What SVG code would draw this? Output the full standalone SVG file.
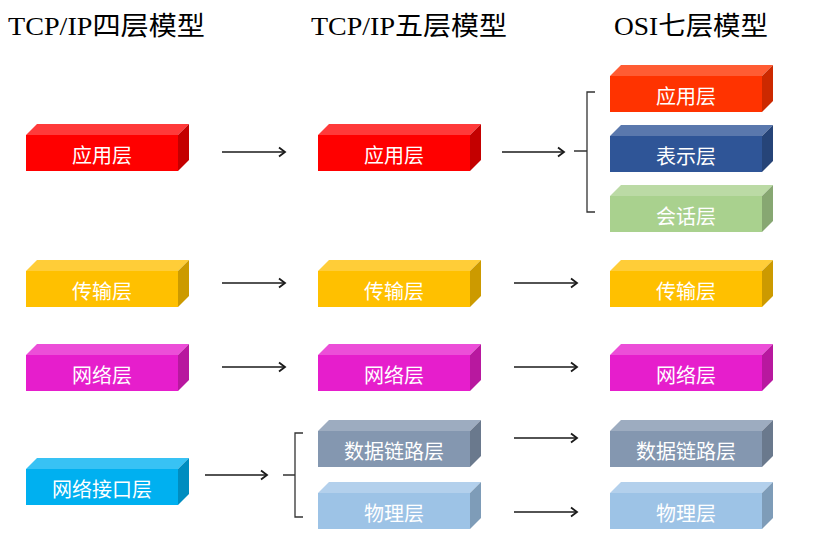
<svg xmlns="http://www.w3.org/2000/svg" width="813" height="559" viewBox="0 0 813 559">
<defs>
<marker id="arr" markerWidth="12" markerHeight="12" refX="9" refY="6" orient="auto" markerUnits="userSpaceOnUse">
<path d="M3,1.5 L9,6 L3,10.5" fill="none" stroke="#1a1a1a" stroke-width="1.8"/>
</marker>
</defs>
<style>
.title{font-family:"Liberation Serif","Noto Sans CJK SC",serif;font-size:26px;fill:#000}
.lbl{font-family:"Noto Sans CJK SC","Noto Sans CJK JP",sans-serif;font-size:20px;fill:#fff;text-anchor:middle}
.con{stroke:#1a1a1a;stroke-width:1.6;fill:none}
.br{stroke:#333;stroke-width:1.3;fill:none}
.red .f{fill:#FF0000}.red .t{fill:#FF3A3A}.red .s{fill:#C40000}
.ylw .f{fill:#FFC000}.ylw .t{fill:#FFCD38}.ylw .s{fill:#CC9A00}
.mag .f{fill:#E61ECC}.mag .t{fill:#EC4ED8}.mag .s{fill:#B8189F}
.cyn .f{fill:#00B0F0}.cyn .t{fill:#38C2F4}.cyn .s{fill:#008DC0}
.org .f{fill:#FF3300}.org .t{fill:#FF5C33}.org .s{fill:#CC2900}
.blu .f{fill:#2F5597}.blu .t{fill:#5A78AD}.blu .s{fill:#264478}
.grn .f{fill:#A9D18E}.grn .t{fill:#BBDAA5}.grn .s{fill:#87A772}
.slt .f{fill:#8497B0}.slt .t{fill:#9DACC0}.slt .s{fill:#6A798D}
.lbl2 .f{fill:#9DC3E6}.lbl2 .t{fill:#B3D0EC}.lbl2 .s{fill:#7E9CB8}
</style>
<rect width="813" height="559" fill="#fff"/>
<g id="titles">
<text class="title" x="8" y="35" textLength="197" lengthAdjust="spacingAndGlyphs">TCP/IP四层模型</text>
<text class="title" x="311" y="35" textLength="196" lengthAdjust="spacingAndGlyphs">TCP/IP五层模型</text>
<text class="title" x="614" y="35" textLength="154" lengthAdjust="spacingAndGlyphs">OSI七层模型</text>
</g>

<g id="L1" class="red"><polygon class="t" points="26,135 37,124 189,124 178,135"/><polygon class="s" points="178,135 189,124 189,160 178,171"/><rect class="f" x="26" y="135" width="152" height="36"/><text class="lbl" x="102" y="163">应用层</text></g>
<g id="L2" class="ylw"><polygon class="t" points="26,271 37,260 189,260 178,271"/><polygon class="s" points="178,271 189,260 189,296 178,307"/><rect class="f" x="26" y="271" width="152" height="36"/><text class="lbl" x="102" y="299">传输层</text></g>
<g id="L3" class="mag"><polygon class="t" points="26,355 37,344 189,344 178,355"/><polygon class="s" points="178,355 189,344 189,380 178,391"/><rect class="f" x="26" y="355" width="152" height="36"/><text class="lbl" x="102" y="383">网络层</text></g>
<g id="L4" class="cyn"><polygon class="t" points="26,469 37,458 189,458 178,469"/><polygon class="s" points="178,469 189,458 189,494 178,505"/><rect class="f" x="26" y="469" width="152" height="36"/><text class="lbl" x="102" y="497">网络接口层</text></g>

<g id="M1" class="red"><polygon class="t" points="318,135 329,124 481,124 470,135"/><polygon class="s" points="470,135 481,124 481,160 470,171"/><rect class="f" x="318" y="135" width="152" height="36"/><text class="lbl" x="394" y="163">应用层</text></g>
<g id="M2" class="ylw"><polygon class="t" points="318,271 329,260 481,260 470,271"/><polygon class="s" points="470,271 481,260 481,296 470,307"/><rect class="f" x="318" y="271" width="152" height="36"/><text class="lbl" x="394" y="299">传输层</text></g>
<g id="M3" class="mag"><polygon class="t" points="318,355 329,344 481,344 470,355"/><polygon class="s" points="470,355 481,344 481,380 470,391"/><rect class="f" x="318" y="355" width="152" height="36"/><text class="lbl" x="394" y="383">网络层</text></g>
<g id="M4" class="slt"><polygon class="t" points="318,431 329,420 481,420 470,431"/><polygon class="s" points="470,431 481,420 481,456 470,467"/><rect class="f" x="318" y="431" width="152" height="36"/><text class="lbl" x="394" y="459">数据链路层</text></g>
<g id="M5" class="lbl2"><polygon class="t" points="318,493 329,482 481,482 470,493"/><polygon class="s" points="470,493 481,482 481,518 470,529"/><rect class="f" x="318" y="493" width="152" height="36"/><text class="lbl" x="394" y="521">物理层</text></g>

<g id="R1" class="org"><polygon class="t" points="610,76 621,65 773,65 762,76"/><polygon class="s" points="762,76 773,65 773,101 762,112"/><rect class="f" x="610" y="76" width="152" height="36"/><text class="lbl" x="686" y="104">应用层</text></g>
<g id="R2" class="blu"><polygon class="t" points="610,136 621,125 773,125 762,136"/><polygon class="s" points="762,136 773,125 773,161 762,172"/><rect class="f" x="610" y="136" width="152" height="36"/><text class="lbl" x="686" y="164">表示层</text></g>
<g id="R3" class="grn"><polygon class="t" points="610,196 621,185 773,185 762,196"/><polygon class="s" points="762,196 773,185 773,221 762,232"/><rect class="f" x="610" y="196" width="152" height="36"/><text class="lbl" x="686" y="224">会话层</text></g>
<g id="R4" class="ylw"><polygon class="t" points="610,271 621,260 773,260 762,271"/><polygon class="s" points="762,271 773,260 773,296 762,307"/><rect class="f" x="610" y="271" width="152" height="36"/><text class="lbl" x="686" y="299">传输层</text></g>
<g id="R5" class="mag"><polygon class="t" points="610,355 621,344 773,344 762,355"/><polygon class="s" points="762,355 773,344 773,380 762,391"/><rect class="f" x="610" y="355" width="152" height="36"/><text class="lbl" x="686" y="383">网络层</text></g>
<g id="R6" class="slt"><polygon class="t" points="610,431 621,420 773,420 762,431"/><polygon class="s" points="762,431 773,420 773,456 762,467"/><rect class="f" x="610" y="431" width="152" height="36"/><text class="lbl" x="686" y="459">数据链路层</text></g>
<g id="R7" class="lbl2"><polygon class="t" points="610,493 621,482 773,482 762,493"/><polygon class="s" points="762,493 773,482 773,518 762,529"/><rect class="f" x="610" y="493" width="152" height="36"/><text class="lbl" x="686" y="521">物理层</text></g>

<g id="connectors">
<line class="con" x1="222" y1="152" x2="285" y2="152" marker-end="url(#arr)"/>
<line class="con" x1="502" y1="152" x2="564" y2="152" marker-end="url(#arr)"/>
<line class="con" x1="222" y1="283" x2="285" y2="283" marker-end="url(#arr)"/>
<line class="con" x1="514" y1="283" x2="577" y2="283" marker-end="url(#arr)"/>
<line class="con" x1="222" y1="367" x2="285" y2="367" marker-end="url(#arr)"/>
<line class="con" x1="514" y1="367" x2="577" y2="367" marker-end="url(#arr)"/>
<line class="con" x1="205" y1="475" x2="267" y2="475" marker-end="url(#arr)"/>
<line class="con" x1="514" y1="438" x2="577" y2="438" marker-end="url(#arr)"/>
<line class="con" x1="514" y1="512" x2="577" y2="512" marker-end="url(#arr)"/>
<path class="br" d="M595,92 H587 V212 H595 M574,151 H587"/>
<path class="br" d="M303,433 H295 V517 H303 M283,475 H295"/>
</g>
</svg>
